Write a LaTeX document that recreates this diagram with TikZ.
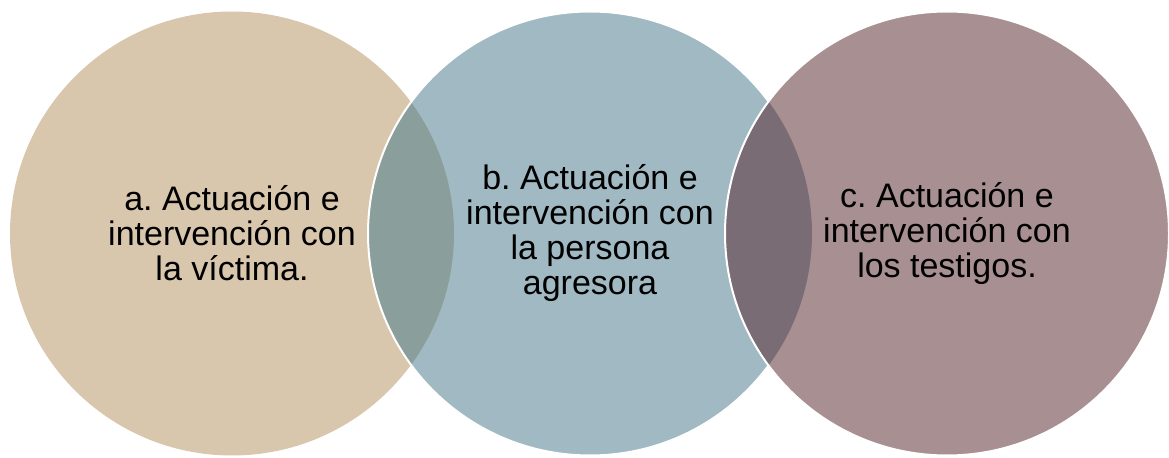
\documentclass[tikz,border=0pt]{standalone}
\usepackage{fontspec}
\setmainfont{Liberation Sans}
\usetikzlibrary{calc}
\frenchspacing
\definecolor{victima col}{HTML}{D9C7AD}
\definecolor{agresora col}{HTML}{A0B9C2}
\definecolor{testigos col}{HTML}{A89092}
\definecolor{ab col}{HTML}{8A9E9B}
\definecolor{bc col}{HTML}{7A6C74}

\begin{document}
\begin{tikzpicture}[x=0.75pt, y=0.75pt,
		venn/.style={circle, minimum size=333pt, inner sep=0pt, align=center, text=black, font=\fontsize{25.5}{26.25}\selectfont},
		rim/.style={draw=white, line width=1.5pt}]
			\useasboundingbox (0,0) rectangle (1169,457);
			\path node[venn, fill=victima col] (victima) at (232,223.5) {a. Actuación e\\intervención con\\la víctima.};
			\path node[venn, fill=agresora col] (agresora) at (590,223.5) {b. Actuación e\\intervención con\\la persona\\agresora};
			\begin{scope}
				\clip (victima.center) circle (222);
				\fill[ab col] (agresora.center) circle (222);
			\end{scope}
			\draw[rim] (agresora.center) circle (222);
			\path node[venn, fill=testigos col] (testigos) at (947,223.5) {c. Actuación e\\intervención con\\los testigos.};
			\begin{scope}
				\clip (agresora.center) circle (222);
				\fill[bc col] (testigos.center) circle (222);
			\end{scope}
			\draw[rim] (testigos.center) circle (222);
		\end{tikzpicture}
\end{document}
